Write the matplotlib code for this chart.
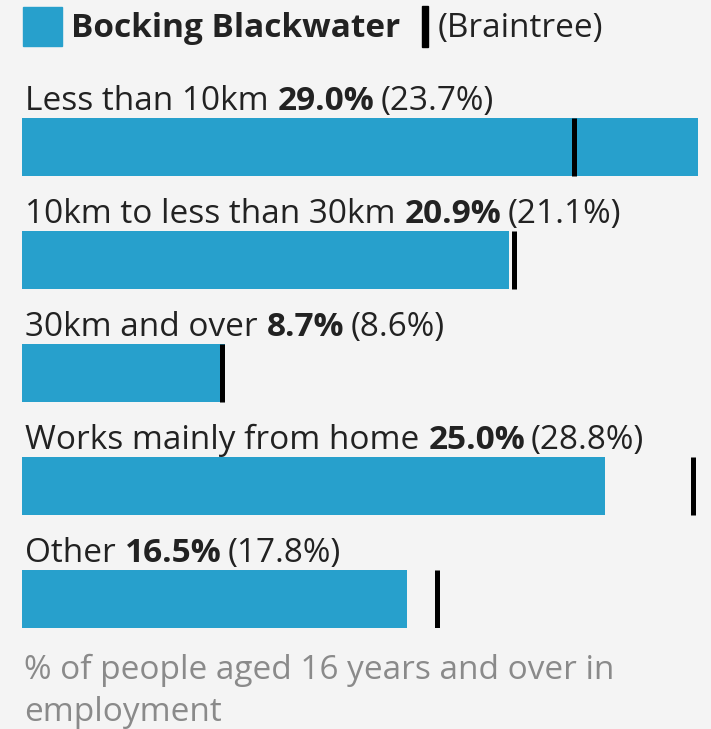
import matplotlib.pyplot as plt
from matplotlib.patches import Rectangle

plt.rcParams["font.family"] = ["Open Sans", "DejaVu Sans"]

BAR_COLOR = "#27a0cc"
BG = "#f4f4f4"
TEXT = "#222222"
MUTED = "#8a8a8a"

area_name = "Bocking Blackwater"
compare_name = "Braintree"
categories = ["Less than 10km", "10km to less than 30km", "30km and over",
              "Works mainly from home", "Other"]
area_values = [29.0, 20.9, 8.7, 25.0, 16.5]
compare_values = [23.7, 21.1, 8.6, 28.8, 17.8]
footer_lines = ["% of people aged 16 years and over in", "employment"]

W, H = 711, 729
FS = 24

fig = plt.figure(figsize=(W / 100, H / 100), dpi=100, facecolor=BG)


def fx(px):
    return px / W


def fy(py):
    return 1 - py / H


# bars axis: x 22..698 px, y 118..628 px  (113 px per category)
ax = fig.add_axes([fx(22), fy(628), fx(698 - 22), (628 - 118) / H])
ax.set_facecolor(BG)
xmax = max(area_values + compare_values)
ax.set_xlim(0, xmax)
bar_h = 0.513
ax.set_ylim(len(categories) - 1 + bar_h / 2, -bar_h / 2)
ax.axis("off")

ypos = list(range(len(categories)))
ax.barh(ypos, area_values, height=bar_h, color=BAR_COLOR, linewidth=0)
ax.errorbar(compare_values, ypos, yerr=bar_h / 2, fmt="none",
            ecolor="black", elinewidth=3.6, capsize=0, zorder=3)


def chain(first, pieces):
    prev = first
    for s, weight, color, gap in pieces:
        prev = ax.annotate(s, xy=(1, 0), xycoords=prev, xytext=(gap, 0),
                           textcoords="offset points", ha="left", va="bottom",
                           fontsize=FS, fontweight=weight, color=color,
                           annotation_clip=False)
    return prev


for i, (cat, a, c) in enumerate(zip(categories, area_values, compare_values)):
    t = ax.text(0.12, i - 0.327, cat, ha="left", va="baseline", fontsize=FS,
                color=TEXT, clip_on=False)
    chain(t, [(f"{a:.1f}%", "bold", TEXT, 7),
              (f"({c:.1f}%)", "normal", TEXT, 4)])

# legend
fig.patches.append(Rectangle((fx(23), fy(46)), fx(39), (46 - 7) / H,
                             transform=fig.transFigure, color=BAR_COLOR))
fig.text(fx(71), fy(37), area_name, fontsize=24, fontweight="bold",
         color=TEXT, ha="left", va="baseline")
fig.patches.append(Rectangle((fx(422), fy(47)), fx(6), (47 - 6) / H,
                             transform=fig.transFigure, color="black"))
fig.text(fx(438), fy(37), f"({compare_name})", fontsize=FS,
         color=TEXT, ha="left", va="baseline")

fig.text(fx(24), fy(679), footer_lines[0], fontsize=FS, color=MUTED,
         ha="left", va="baseline")
fig.text(fx(24), fy(721), footer_lines[1], fontsize=FS, color=MUTED,
         ha="left", va="baseline")

fig.savefig("out.png", dpi=100, facecolor=BG)
